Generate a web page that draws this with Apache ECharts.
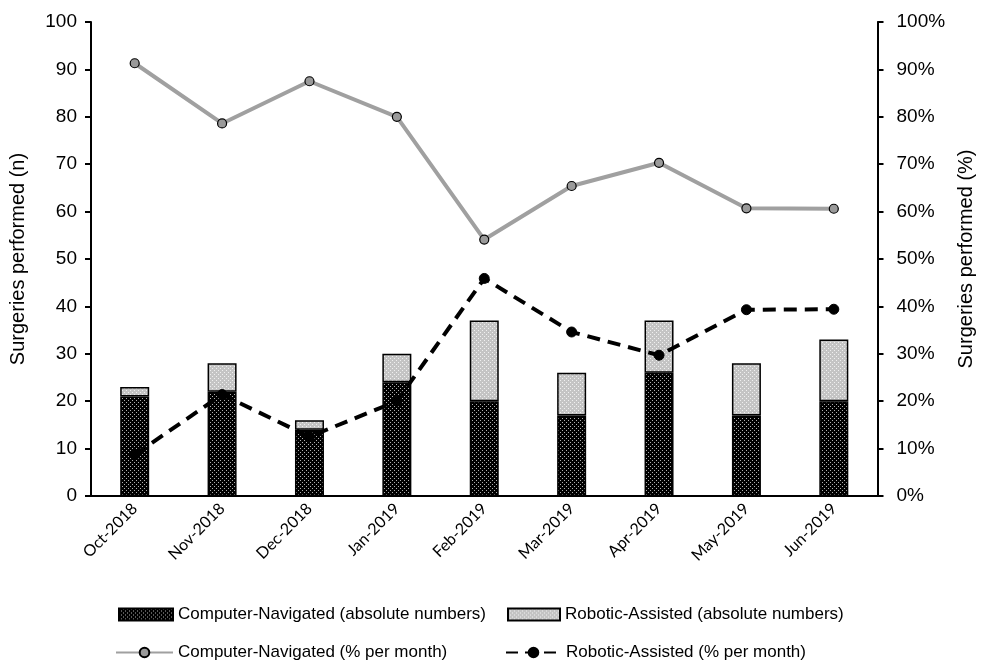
<!DOCTYPE html>
<html><head><meta charset="utf-8">
<script src="https://cdn.jsdelivr.net/npm/echarts@6/dist/echarts.min.js"></script>
<style>html,body{margin:0;padding:0;background:#fff}#c{width:984px;height:660px}</style>
</head><body><div id="c"></div>
<script>
var categories = ['Oct-2018','Nov-2018','Dec-2018','Jan-2019','Feb-2019','Mar-2019','Apr-2019','May-2019','Jun-2019'];
var cnAbs = [21, 22, 14, 24, 20, 17, 26, 17, 20];
var raAbs = [2, 6, 2, 6, 17, 9, 11, 11, 13];
var cnPct = [91.3, 78.6, 87.5, 80.0, 54.1, 65.4, 70.3, 60.7, 60.6];
var raPct = [8.7, 21.4, 12.5, 20.0, 45.9, 34.6, 29.7, 39.3, 39.4];
var leftTicks = [0,10,20,30,40,50,60,70,80,90,100];

function makePattern(bg, dot, size) {
  var c = document.createElement('canvas');
  c.width = size; c.height = size;
  var g = c.getContext('2d');
  g.fillStyle = bg; g.fillRect(0,0,size,size);
  g.fillStyle = dot;
  g.fillRect(0,0,1,1);
  g.fillRect(size/2,size/2,1,1);
  return c;
}
var darkPat = {image: makePattern('#000000', '#b0b0b0', 4), repeat: 'repeat'};
var lightPat = {image: makePattern('#c4c4c4', '#f0f0f0', 4), repeat: 'repeat'};

var chart = echarts.init(document.getElementById('c'), null, {renderer: 'canvas'});
var axisFont = {fontFamily: 'Liberation Sans, Arial, sans-serif', fontSize: 19, color: '#000'};
var legendText = {fontFamily: 'Liberation Sans, Arial, sans-serif', fontSize: 17, color: '#000'};
var nameFont = {fontFamily: 'Liberation Sans, Arial, sans-serif', fontSize: 20, color: '#000'};
chart.setOption({
  animation: false,
  grid: {left: 91, right: 103, top: 22, bottom: 164},
  legend: [
    {left: 113, top: 601, itemWidth: 54, itemHeight: 12, itemGap: 10, textStyle: legendText,
     data: [{name: 'Computer-Navigated (absolute numbers)', icon: 'rect'}]},
    {left: 502, top: 601, itemWidth: 52, itemHeight: 12, itemGap: 10, textStyle: legendText,
     data: [{name: 'Robotic-Assisted (absolute numbers)', icon: 'rect'}]},
    {left: 110, top: 639, itemWidth: 57, itemHeight: 12, itemGap: 10, textStyle: legendText,
     data: [{name: 'Computer-Navigated (% per month)'}]},
    {left: 500, top: 639, itemWidth: 55, itemHeight: 12, itemGap: 10, textStyle: legendText,
     data: [{name: 'Robotic-Assisted (% per month)', lineStyle: {type: [12, 7]}}]}
  ],
  xAxis: {
    type: 'category', data: categories,
    axisLine: {lineStyle: {color: '#000', width: 2}},
    axisTick: {alignWithLabel: true, length: 6, lineStyle: {color: '#000', width: 2}},
    axisLabel: {rotate: 45, margin: 10, fontFamily: 'Lato, Open Sans, sans-serif', fontSize: 16, color: '#000'}
  },
  yAxis: [
    {type: 'value', min: 0, max: 100, interval: 10,
     name: 'Surgeries performed (n)', nameLocation: 'middle', nameGap: 63,
     nameTextStyle: nameFont,
     axisLine: {show: true, lineStyle: {color: '#000', width: 2}},
     axisTick: {show: true, length: 6, lineStyle: {color: '#000', width: 2}},
     axisLabel: Object.assign({margin: 14}, axisFont),
     splitLine: {show: false}},
    {type: 'value', min: 0, max: 100, interval: 10, position: 'right',
     name: 'Surgeries performed (%)', nameLocation: 'middle', nameGap: 70, nameRotate: 90,
     nameTextStyle: nameFont,
     axisLine: {show: true, lineStyle: {color: '#000', width: 2}},
     axisTick: {show: true, length: 6, lineStyle: {color: '#000', width: 2}},
     axisLabel: Object.assign({margin: 19, formatter: '{value}%'}, axisFont),
     splitLine: {show: false}}
  ],
  series: [
    {name: 'Computer-Navigated (absolute numbers)', type: 'bar', stack: 'abs', data: cnAbs, barWidth: 29,
     itemStyle: {color: darkPat, borderColor: '#000', borderWidth: 1.5}},
    {name: 'Robotic-Assisted (absolute numbers)', type: 'bar', stack: 'abs', data: raAbs, barWidth: 29,
     itemStyle: {color: lightPat, borderColor: '#000', borderWidth: 1.5}},
    {name: 'Computer-Navigated (% per month)', type: 'line', yAxisIndex: 1, data: cnPct,
     symbol: 'circle', symbolSize: 9,
     lineStyle: {color: '#a0a0a0', width: 4},
     itemStyle: {color: '#9a9a9a', borderColor: '#000', borderWidth: 1.2}, z: 5},
    {name: 'Robotic-Assisted (% per month)', type: 'line', yAxisIndex: 1, data: raPct,
     symbol: 'circle', symbolSize: 10,
     lineStyle: {color: '#000', width: 4, type: [13, 8]},
     itemStyle: {color: '#000', borderColor: '#000', borderWidth: 1}, z: 6}
  ]
});
</script></body></html>
